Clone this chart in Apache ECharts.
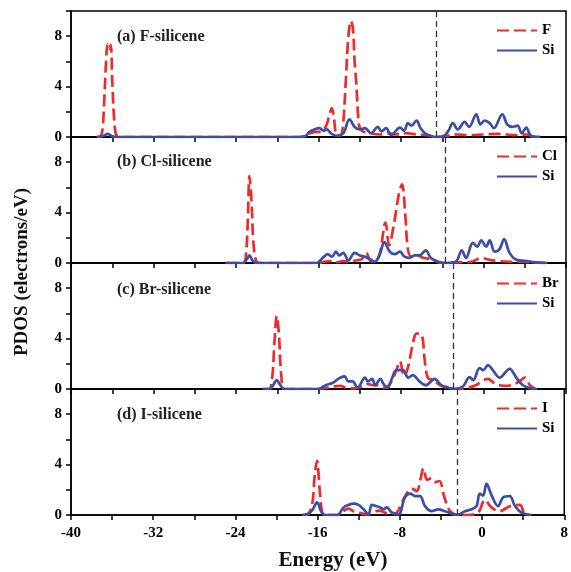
<!DOCTYPE html>
<html>
<head>
<meta charset="utf-8">
<script src="https://cdn.jsdelivr.net/npm/echarts@6/dist/echarts.min.js"></script>
<style>
  html, body { margin: 0; padding: 0; background: #fff; }
  #chart { width: 571px; height: 572px; }
</style>
</head>
<body>
<div id="chart"></div>
<script>
// 各面板标签
const panelLabels = ["(a) F-silicene", "(b) Cl-silicene", "(c) Br-silicene", "(d) I-silicene"];
const atomNames = ["F", "Cl", "Br", "I"];
// 费米能级 (eV)
const fermiLevels = [-4.55, -3.7, -2.9, -2.4];

// (a) F-silicene
const aF = [[-37.5,0],[-37.3,0],[-37.0,0.3],[-36.8,2.5],[-36.6,6.0],[-36.45,7.4],[-36.3,7.0],[-36.15,7.3],[-36.0,4.5],[-35.8,1.2],[-35.6,0.1],[-35.3,0],
  [-17.8,0],[-17.2,0.1],[-16.8,0.3],[-16.2,0.4],[-15.8,0.4],[-15.25,0.9],[-15.0,1.6],[-14.7,2.3],[-14.5,1.5],[-14.28,0.2],[-13.9,0.1],[-13.64,0.8],
  [-13.35,4.5],[-13.1,8.0],[-12.85,9.2],[-12.65,8.5],[-12.5,6.0],[-12.34,4.3],[-12.08,1.0],[-11.8,0.5],[-11.0,0.3],[-10.0,0.2],[-9.2,0.3],[-8.5,0.2],
  [-7.5,0.3],[-6.5,0.2],[-5.5,0.15],[-4.5,0],[-3.5,0.1],[-2.5,0.2],[-1.5,0.15],[0,0.2],[1.5,0.25],[3,0.15],[4.2,0.2],[5.0,0],[5.5,0]];
const aSi = [[-37.5,0],[-36.8,0.1],[-36.45,0.25],[-36.1,0.1],[-35.6,0],[-17.8,0],[-17.2,0.1],[-16.9,0.4],[-16.4,0.6],[-15.9,0.7],[-15.5,0.5],[-15.2,0.6],
  [-14.8,0.3],[-14.3,0.1],[-13.6,0.3],[-13.0,1.4],[-12.5,0.8],[-12.0,0.6],[-11.5,0.7],[-10.9,0.3],[-10.25,0.8],[-9.9,0.45],[-9.45,0.7],[-8.95,0.15],
  [-8.1,0.75],[-7.7,0.5],[-7.33,1.1],[-7.0,0.9],[-6.5,1.3],[-6.1,0.7],[-5.6,0.25],[-5.0,0.05],[-4.55,0],[-3.9,0.05],[-3.4,0.5],[-2.97,1.1],[-2.5,0.6],
  [-1.83,1.2],[-1.4,0.8],[-0.7,1.8],[-0.3,1.0],[0.1,1.3],[0.6,1.1],[1.0,0.7],[1.82,1.8],[2.3,1.0],[2.8,0.8],[3.3,0.9],[3.7,0.3],[4.15,0.75],[4.6,0.1],[5.5,0]];

// (b) Cl-silicene
const bCl = [[-25,0],[-23.3,0],[-23.05,0.5],[-22.85,3.5],[-22.7,6.9],[-22.5,5.0],[-22.3,1.5],[-22.0,0.1],[-21.5,0],[-16.0,0],[-15.5,0.1],[-14.8,0.15],
  [-14.3,0.05],[-13.6,0.15],[-13.0,0.1],[-12.4,0.2],[-11.8,0.3],[-11.37,0.8],[-11.0,0.2],[-10.6,0.1],[-10.1,0.6],[-9.5,3.2],[-9.15,1.4],[-8.7,3.0],
  [-8.2,5.5],[-7.9,6.25],[-7.6,4.0],[-7.35,1.2],[-7.0,0.5],[-6.4,0.6],[-5.8,0.4],[-5.0,0.3],[-4.3,0.05],[-3.7,0],[-2.5,0.05],[-1.2,0.1],[-0.2,0.4],
  [0.6,0.25],[1.5,0.15],[2.5,0.1],[3.6,0.1],[4.6,0.05],[6,0]];
const bSi = [[-25,0],[-23.3,0],[-22.95,0.3],[-22.7,0.6],[-22.4,0.2],[-22.0,0],[-16.2,0],[-15.6,0.4],[-15.1,0.7],[-14.7,0.5],[-14.3,0.9],[-14.0,0.6],
  [-13.6,0.8],[-13.1,0.2],[-12.5,0.8],[-12.0,0.6],[-11.5,0.5],[-11.0,0.3],[-10.56,0.1],[-10.1,0.6],[-9.6,1.65],[-9.1,0.9],[-8.6,0.7],[-8.1,0.9],
  [-7.66,0.5],[-7.2,0.4],[-6.7,0.6],[-6.2,0.6],[-5.6,1.0],[-5.1,0.4],[-4.4,0.1],[-3.7,0],[-2.7,0.1],[-2.1,1.0],[-1.7,0.4],[-1.03,1.6],[-0.6,1.3],
  [-0.22,1.8],[0.25,1.3],[0.6,1.8],[1.08,0.9],[1.56,1.1],[2.0,1.9],[2.53,0.8],[3.2,0.25],[4.15,0.16],[5.0,0.05],[6.2,0]];

// (c) Br-silicene
const cBr = [[-21.4,0],[-20.8,0],[-20.5,0.8],[-20.25,4.0],[-20.05,5.8],[-19.85,4.5],[-19.6,1.0],[-19.3,0],[-16,0],[-15.2,0.1],[-14.6,0.2],[-13.9,0.25],
  [-13.3,0.1],[-12.5,0.05],[-11.8,0.2],[-11.3,0.4],[-10.7,0.3],[-10.2,0.3],[-9.6,0.1],[-9.0,0.5],[-8.45,1.5],[-8.1,2.2],[-7.7,1.0],[-7.3,1.8],
  [-6.8,3.8],[-6.5,4.4],[-6.0,4.3],[-5.7,2.3],[-5.4,0.9],[-4.9,0.7],[-4.2,0.3],[-3.5,0.1],[-2.9,0],[-1.8,0.05],[-0.75,0.3],[0.43,0.8],[1.0,0.5],
  [1.6,0.3],[2.3,0.25],[3.0,0.4],[3.5,0.6],[4.0,0.9],[4.5,0.3],[5.0,0]];
const cSi = [[-21.4,0],[-20.7,0],[-20.4,0.3],[-20.05,0.7],[-19.7,0.3],[-19.3,0],[-16.0,0],[-15.3,0.3],[-14.6,0.5],[-14.25,0.7],[-13.9,0.9],[-13.47,1.0],
  [-13.1,0.6],[-12.7,0.6],[-12.2,0.1],[-11.5,0.9],[-11.2,0.6],[-10.8,0.8],[-10.5,0.3],[-10.0,0.8],[-9.7,0.4],[-9.3,0.1],[-8.9,0.8],[-8.45,1.5],
  [-7.8,1.5],[-7.3,0.9],[-6.85,1.1],[-6.2,0.6],[-5.6,0.3],[-4.74,0.8],[-4.1,0.3],[-3.4,0.1],[-2.9,0],[-2.0,0.2],[-1.35,0.95],[-1.0,0.7],[-0.38,1.65],
  [0.0,1.5],[0.43,1.9],[0.9,1.5],[1.56,0.9],[2.53,1.6],[3.18,0.9],[3.82,0.3],[4.6,0.05],[5.2,0]];

// (d) I-silicene
const dI = [[-17.5,0],[-16.9,0.1],[-16.5,1.0],[-16.3,3.0],[-16.06,4.3],[-15.8,2.0],[-15.55,0.2],[-15.2,0],[-14.0,0],[-13.5,0.3],[-13.0,0.5],[-12.5,0.3],
  [-12.0,0.2],[-11.2,0.05],[-10.6,0.2],[-10.0,0.35],[-9.5,0.2],[-9.0,0.1],[-8.3,0.2],[-7.8,1.0],[-7.4,1.6],[-6.85,2.1],[-6.35,1.9],[-6.0,2.8],
  [-5.7,3.7],[-5.35,2.8],[-4.95,2.9],[-4.6,2.6],[-4.15,2.7],[-3.7,1.5],[-3.2,0.4],[-2.7,0.05],[-2.4,0],[-1.5,0],[-0.38,0.2],[0.27,1.2],[0.91,0.6],
  [1.72,0.3],[2.7,0.7],[3.67,0.8],[4.15,0.1],[4.6,0]];
const dSi = [[-17.5,0],[-16.9,0.1],[-16.5,0.4],[-16.06,1.0],[-15.6,0.2],[-15.2,0],[-14.1,0],[-13.47,0.6],[-12.99,0.8],[-12.5,0.9],[-12.02,0.8],
  [-11.53,0.45],[-11.05,0.05],[-10.73,0.8],[-10.24,0.7],[-9.9,0.6],[-9.6,0.45],[-9.27,0.6],[-8.79,0.2],[-8.14,0.05],[-7.5,1.4],[-7.0,1.7],[-6.5,1.5],
  [-6.03,1.5],[-5.55,0.7],[-4.9,0.3],[-4.26,0.45],[-3.6,0.3],[-2.4,0],[-1.67,0.3],[-1.03,0.45],[-0.54,0.7],[-0.22,1.7],[0.11,1.55],[0.43,2.5],
  [0.91,1.6],[1.56,0.7],[2.05,1.4],[2.7,1.5],[3.18,0.75],[3.82,0.2],[4.8,0]];

const atomData = [aF, bCl, cBr, dI];
const siData = [aSi, bSi, cSi, dSi];
// 图例、标签的位置
const legendTops = [23, 149, 276, 401];
const labelTops = [29, 154, 282, 407];

const RED = "#ee2b2b";
const BLUE = "#3b4ea5";
const FONT = "Liberation Serif";

const chart = echarts.init(document.getElementById("chart"));

let grids = [], xAxes = [], yAxes = [], series = [], legends = [], titles = [];
const panelTop = 11, panelH = 126;

for (let i = 0; i < 4; i++) {
  grids.push({
    left: 71, right: 5, top: panelTop + i * panelH, height: panelH,
    show: true, borderColor: "#000", borderWidth: 1.5, backgroundColor: "transparent"
  });
  xAxes.push({
    gridIndex: i, type: "value", min: -40, max: 8, interval: 4,
    axisLine: { show: true, onZero: false, lineStyle: { color: "#000", width: 1.5 } },
    axisTick: { show: true, inside: false, length: 5, lineStyle: { color: "#000", width: 1.5 } },
    axisLabel: {
      show: i === 3, margin: 11, color: "#000", fontFamily: FONT, fontWeight: "bold", fontSize: 15,
      formatter: v => (v % 8 === 0 ? String(v) : "")
    },
    splitLine: { show: false }
  });
  yAxes.push({
    gridIndex: i, type: "value", min: 0, max: 10, interval: 2,
    axisLine: { show: true, onZero: false, lineStyle: { color: "#000", width: 1.5 } },
    axisTick: { show: true, inside: false, length: 5, lineStyle: { color: "#000", width: 1.5 } },
    axisLabel: {
      margin: 9, color: "#000", fontFamily: FONT, fontWeight: "bold", fontSize: 15,
      formatter: v => (v % 4 === 0 && v !== 10 ? String(v) : "")
    },
    splitLine: { show: false }
  });
  series.push({
    name: atomNames[i], type: "line", xAxisIndex: i, yAxisIndex: i,
    data: atomData[i], showSymbol: false, symbol: "none", smooth: 0.35,
    lineStyle: { color: RED, width: 2.7, type: [12, 5] },
    itemStyle: { color: RED }
  });
  series.push({
    name: "Si", type: "line", xAxisIndex: i, yAxisIndex: i,
    data: siData[i], showSymbol: false, symbol: "none", smooth: 0.35,
    lineStyle: { color: BLUE, width: 2.7 },
    itemStyle: { color: BLUE },
    markLine: {
      silent: true, symbol: "none", label: { show: false },
      lineStyle: { color: "#333", width: 1.3, type: [6, 4] },
      data: [{ xAxis: fermiLevels[i] }]
    }
  });
  legends.push({
    data: [atomNames[i], "Si"], orient: "vertical", left: 496, top: legendTops[i],
    itemWidth: 40, itemHeight: 14, itemGap: 5, padding: 0,
    itemStyle: { opacity: 0 },
    textStyle: { color: "#000", fontFamily: FONT, fontWeight: "bold", fontSize: 15 }
  });
  titles.push({
    text: panelLabels[i], left: 117, top: labelTops[i], padding: 0,
    textStyle: { color: "#222", fontFamily: FONT, fontWeight: "bold", fontSize: 16 }
  });
}

chart.setOption({
  animation: false,
  backgroundColor: "#fff",
  title: titles,
  legend: legends,
  grid: grids,
  xAxis: xAxes,
  yAxis: yAxes,
  series: series,
  graphic: [
    {
      type: "text", x: 22, y: 272, rotation: Math.PI / 2,
      style: { text: "PDOS (electrons/eV)", fill: "#111", font: "bold 19px 'Liberation Serif'", textAlign: "center", textVerticalAlign: "middle" }
    },
    {
      type: "text", x: 333, y: 561,
      style: { text: "Energy (eV)", fill: "#111", font: "bold 21px 'Liberation Serif'", textAlign: "center", textVerticalAlign: "middle" }
    }
  ]
});
</script>
</body>
</html>
